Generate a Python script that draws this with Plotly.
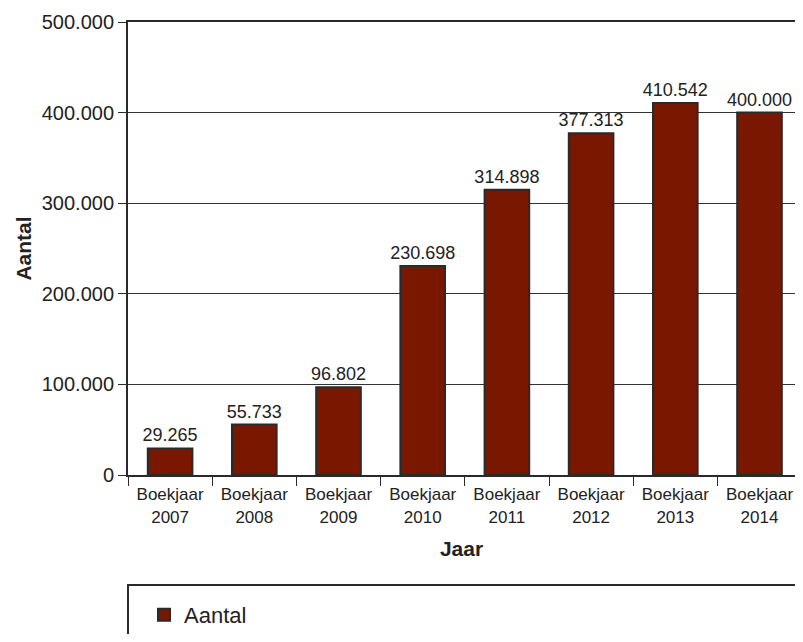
import plotly.graph_objects as go

categories = ["Boekjaar<br>2007", "Boekjaar<br>2008", "Boekjaar<br>2009", "Boekjaar<br>2010",
              "Boekjaar<br>2011", "Boekjaar<br>2012", "Boekjaar<br>2013", "Boekjaar<br>2014"]
values = [29265, 55733, 96802, 230698, 314898, 377313, 410542, 400000]
series_name = "Aantal"
y_ticks = [0, 100000, 200000, 300000, 400000, 500000]

FONT = "Liberation Sans, Arial, sans-serif"
TXT = "#222222"
W, H = 787, 626
L, T, B = 120, 14, 159
PLOT_H = H - T - B
CAT_W = 84.2

fig = go.Figure()
fig.add_trace(go.Bar(
    x=categories, y=values, name=series_name,
    marker=dict(color="#7a1700", line=dict(color="#2a2a2a", width=2)),
    width=0.53,
    text=values, texttemplate="%{y:,.0f}", textposition="outside",
    constraintext="none",
    textfont=dict(size=18, color=TXT, family=FONT),
    cliponaxis=False,
))

fig.update_layout(
    width=W, height=H,
    margin=dict(l=L, r=0, t=T, b=B, autoexpand=False),
    paper_bgcolor="white", plot_bgcolor="white",
    separators=",.",
    font=dict(family=FONT, color=TXT),
    showlegend=True,
    legend=dict(x=(136 - L) / (W - L), xanchor="left", y=-119 / PLOT_H, yanchor="top",
                font=dict(size=22, color=TXT, family=FONT),
                bgcolor="rgba(0,0,0,0)"),
    xaxis=dict(
        range=[-0.5, -0.5 + (W - L) / CAT_W], showline=True, linecolor="#2a2a2a", linewidth=2, mirror=True,
        ticks="outside", tickson="boundaries", ticklen=9, tickcolor="#2a2a2a", tickwidth=1,
        ticklabelstandoff=3,
        tickfont=dict(size=17, color=TXT), showgrid=False,
        title=dict(text="<b>Jaar</b>", font=dict(size=21, color=TXT), standoff=16),
    ),
    yaxis=dict(
        range=[0, 500000], tickvals=y_ticks, tickformat=",.0f",
        showline=True, linecolor="#2a2a2a", linewidth=2,
        ticks="outside", ticklen=8, tickcolor="#2a2a2a", tickwidth=1,
        tickfont=dict(size=20, color=TXT),
        showgrid=True, gridcolor="#333333", gridwidth=1, zeroline=False,
        title=dict(text="<b>Aantal</b>", font=dict(size=21, color=TXT), standoff=4),
    ),
    shapes=[dict(type="rect", xref="paper", yref="paper",
                 x0=0, x1=1.05, y0=-110 / PLOT_H, y1=-200 / PLOT_H,
                 line=dict(color="#2a2a2a", width=2), fillcolor="rgba(0,0,0,0)", layer="below")],
)

fig.write_html("out.html")
